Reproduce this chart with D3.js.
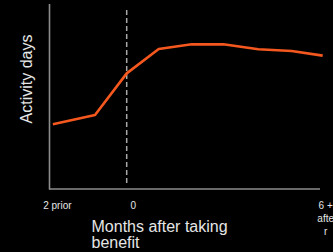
<!DOCTYPE html>
<html>
<head>
<meta charset="utf-8">
<script src="https://cdn.jsdelivr.net/npm/d3@7"></script>
<style>
  html, body { margin: 0; padding: 0; background: #000; }
  svg { display: block; font-family: "Liberation Sans", Arial, sans-serif; }
</style>
</head>
<body>
<svg id="chart"></svg>
<script>
(function() {

// months relative to taking the benefit
const months = [-2.26, -0.97, 0, 0.98, 1.99, 2.96, 4.03, 5.05, 6];
// activity days, relative units (no y ticks shown)
const activity = [35, 40, 62.5, 75.7, 78.2, 78.2, 75.5, 74.6, 72.1];

const tickMonths = [-2.26, 0, 6];
const tickLabels = [["2 prior"], ["0"], ["6 +", "afte", "r"]];

const lineColor = "#f4581f";
const axisColor = "#8c8c8c";
const textColor = "#e6e6e6";

const width = 333, height = 252;
const svg = d3.select("#chart").attr("width", width).attr("height", height);

const x = d3.scaleLinear().domain([0, 6]).range([126.7, 322.7]);
const y = d3.scaleLinear().domain([0, 100]).range([189, 4]);

// axes lines
svg.append("line")
    .attr("x1", 49.5).attr("x2", 49.5)
    .attr("y1", y(100)).attr("y2", y(0) + 0.5)
    .attr("stroke", axisColor).attr("stroke-width", 1.6);
svg.append("line")
    .attr("x1", 49).attr("x2", 320)
    .attr("y1", y(0)).attr("y2", y(0))
    .attr("stroke", axisColor).attr("stroke-width", 1.6);

// dashed marker at month 0
svg.append("line")
    .attr("x1", x(0)).attr("x2", x(0))
    .attr("y1", 10).attr("y2", 185)
    .attr("stroke", "#a8a8a8").attr("stroke-width", 1.5)
    .attr("stroke-dasharray", "5,3");

const line = d3.line().x((d, i) => x(months[i])).y(d => y(d));
svg.append("path")
    .datum(activity)
    .attr("d", line)
    .attr("fill", "none")
    .attr("stroke", lineColor)
    .attr("stroke-width", 2.6)
    .attr("stroke-linejoin", "round");

// tick labels
const tickOffsets = [4.5, 6.5, 3];
tickMonths.forEach((m, i) => {
    const t = svg.append("text")
        .attr("x", x(m) + tickOffsets[i])
        .attr("y", 209)
        .attr("text-anchor", "middle")
        .attr("font-size", "10px")
        .attr("fill", textColor);
    tickLabels[i].forEach((s, j) => {
        t.append("tspan").attr("x", x(m) + tickOffsets[i]).attr("dy", j === 0 ? 0 : 13).text(s);
    });
});

// y axis title
svg.append("text")
    .attr("transform", "translate(32,79) rotate(-90)")
    .attr("text-anchor", "middle")
    .attr("font-size", "16px")
    .attr("fill", textColor)
    .text("Activity days");

// x axis title (wrapped)
const xt = svg.append("text")
    .attr("x", 91.5).attr("y", 231.5)
    .attr("font-size", "16px")
    .attr("fill", textColor);
xt.append("tspan").attr("x", 91.5).text("Months after taking");
xt.append("tspan").attr("x", 91.5).attr("dy", 16.5).text("benefit");

})();
</script>
</body>
</html>
